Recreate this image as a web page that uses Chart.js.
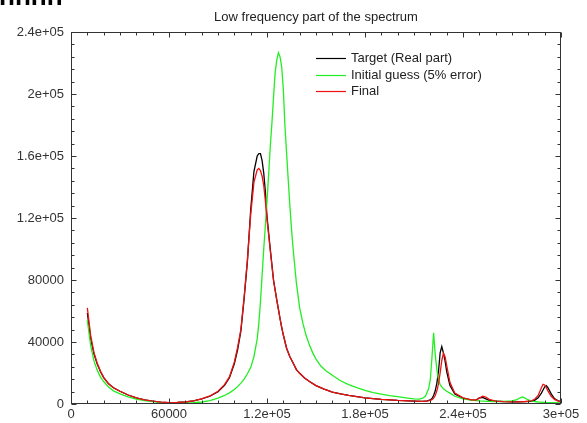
<!DOCTYPE html>
<html>
<head>
<meta charset="utf-8">
<script src="https://cdn.jsdelivr.net/npm/chart.js@4/dist/chart.umd.min.js"></script>
<style>
  body { margin: 0; background: #fff; }
  #wrap { position: relative; width: 587px; height: 423px; }
  #cut { position: absolute; left: 0; top: 0; width: 70px; height: 8px; overflow: hidden; }
  #cut span { position: absolute; left: -1px; top: -19px; font: bold 26px "Liberation Sans", sans-serif; color: #000; letter-spacing: 0px; }
</style>
</head>
<body>
<div id="wrap">
  <canvas id="spectrumChart" width="587" height="423"></canvas>
  <div id="cut"><span>nnnn</span></div>
</div>
<script>
const titleText = "Low frequency part of the spectrum";
const seriesNames = ["Target (Real part)", "Initial guess (5% error)", "Final"];

const xTicks = [0, 60000, 120000, 180000, 240000, 300000];
const yTicks = [0, 40000, 80000, 120000, 160000, 200000, 240000];

// Target (Real part)
const targetX = [10000, 12000, 14000, 16000, 18000, 20000, 23000, 26000, 30000, 35000,
  40000, 45000, 50000, 55000, 60000, 65000, 70000, 75000, 80000, 85000,
  90000, 94000, 97000, 100000, 102000, 104000, 106000, 108000, 110000, 112000,
  114000, 115000, 116000, 117000, 118000, 119000, 120000, 122000, 124000, 126000,
  127000, 128000, 129000, 130000, 132000, 134000, 136000, 138000, 140000, 143000,
  146000, 150000, 155000, 160000, 165000, 170000, 175000, 180000, 190000, 200000,
  210000, 215000, 218000, 220000, 221000, 222000, 223000, 224000, 225000, 226000,
  227000, 228000, 229000, 230000, 232000, 235000, 240000, 245000, 248000, 250000,
  252000, 254000, 256000, 260000, 265000, 270000, 274000, 278000, 282000, 284000,
  286000, 288000, 289000, 290000, 291000, 292000, 294000, 296000, 298000, 300000];
const targetY = [58700, 42500, 32500, 26000, 21000, 17000, 13000, 10500, 8200, 5800,
  4000, 2600, 1800, 1200, 900, 1000, 1300, 2000, 3300, 5000,
  7900, 12000, 17000, 26000, 35000, 47000, 68000, 92000, 125000, 150000,
  160000, 161500, 161500, 157000, 149000, 137000, 121000, 100000, 80000, 67000,
  61000, 55000, 49500, 44500, 36000, 30500, 26500, 22200, 19800, 16800,
  14500, 11900, 9600, 7700, 6500, 5500, 4700, 4000, 3000, 2300,
  1900, 1700, 2000, 2600, 3500, 5500, 8500, 13500, 21000, 33000,
  37000, 33000, 28000, 21000, 12000, 6500, 3800, 2600, 2500, 4000,
  4200, 3300, 2400, 1800, 1500, 1400, 1400, 1500, 1700, 2500,
  4000, 7000, 9000, 11000, 11800, 10500, 6500, 3500, 2200, 1500];

// Initial guess (5% error)
const initialX = [10000, 12000, 14000, 16000, 18000, 20000, 23000, 26000, 30000, 35000,
  40000, 45000, 50000, 55000, 60000, 65000, 70000, 75000, 80000, 85000,
  90000, 94000, 97000, 100000, 102000, 104000, 106000, 108000, 110000, 112000,
  114000, 115000, 116000, 117000, 118000, 119000, 120000, 121000, 122000, 123000,
  124000, 125000, 126000, 127000, 128000, 129000, 130000, 131000, 132000, 133000,
  134000, 135000, 136000, 138000, 140000, 142000, 144000, 146000, 148000, 150000,
  153000, 156000, 160000, 165000, 170000, 175000, 180000, 185000, 190000, 195000,
  200000, 205000, 210000, 213000, 215000, 217000, 219000, 220000, 221000, 222000,
  223000, 224000, 225000, 226000, 228000, 230000, 232000, 235000, 240000, 245000,
  250000, 255000, 260000, 265000, 270000, 273000, 275000, 276500, 278000, 280000,
  283000, 286000, 290000, 295000, 300000];
const initialY = [54000, 38000, 28000, 22000, 17500, 14500, 11000, 8500, 6500, 4600,
  3200, 2200, 1500, 1000, 700, 500, 600, 800, 1300, 2200,
  3800, 5500, 7200, 9300, 11200, 13500, 16000, 19500, 23500, 30500,
  42000, 52000, 66000, 83000, 100000, 115000, 131000, 148000, 166000, 181000,
  198000, 214000, 222000, 226700, 224000, 217600, 203000, 179000, 162000, 144500,
  128000, 113000, 100000, 78000, 62000, 52000, 44000, 38000, 33000, 29000,
  24500, 21500, 18500, 15000, 12500, 10500, 8800, 7400, 6300, 5400,
  4700, 4000, 3300, 3100, 3600, 5000, 10000, 16000, 30000, 46000,
  32000, 22000, 16000, 12500, 9800, 8200, 7000, 5000, 3300, 2500,
  2000, 1700, 1600, 1600, 2000, 2800, 4000, 4500, 3800, 2600,
  1700, 1300, 1000, 800, 700];

// Final
const finalX = [10000, 12000, 14000, 16000, 18000, 20000, 23000, 26000, 30000, 35000,
  40000, 45000, 50000, 55000, 60000, 65000, 70000, 75000, 80000, 85000,
  90000, 94000, 97000, 100000, 102000, 104000, 106000, 108000, 110000, 112000,
  114000, 115000, 116000, 117000, 118000, 119000, 120000, 122000, 124000, 126000,
  127000, 128000, 129000, 130000, 132000, 134000, 136000, 138000, 140000, 143000,
  146000, 150000, 155000, 160000, 165000, 170000, 175000, 180000, 190000, 200000,
  210000, 215000, 218000, 220000, 221000, 222000, 223000, 224000, 225000, 226000,
  227000, 228000, 229000, 230000, 232000, 235000, 240000, 245000, 248000, 250000,
  252000, 254000, 256000, 260000, 265000, 270000, 274000, 278000, 282000, 284000,
  286000, 288000, 289000, 290000, 291000, 292000, 294000, 296000, 298000, 300000];
const finalY = [62000, 44500, 33500, 26500, 21300, 17200, 13100, 10500, 8200, 5800,
  4000, 2600, 1800, 1200, 900, 1000, 1300, 2000, 3300, 5200,
  8200, 12500, 17500, 27000, 36500, 48000, 69000, 93000, 122000, 143000,
  151000, 152000, 150500, 147000, 141000, 131000, 119000, 99000, 79500, 67000,
  61000, 55000, 49500, 44500, 36000, 30500, 26500, 22200, 19800, 16800,
  14500, 11900, 9600, 7700, 6500, 5500, 4700, 4000, 3000, 2300,
  1900, 1700, 1900, 2300, 2800, 3800, 5500, 8500, 13000, 20000,
  28000, 32700, 30500, 25000, 14000, 7000, 4000, 2700, 2600, 3800,
  5100, 4500, 3000, 1900, 1500, 1400, 1400, 1600, 2000, 3200,
  5500, 10500, 12700, 12300, 10500, 8500, 5000, 3000, 2000, 1400];

const lineColors = ["#000000", "#22ee22", "#ee1111"];

function pairs(xs, ys) {
  return xs.map((x, i) => ({ x: x, y: ys[i] }));
}

function fmt(v) {
  v = Math.round(v);
  if (v === 0) return "0";
  if (v < 100000) return String(v);
  return (v / 100000) + "e+05";
}

const fontFamily = "'Liberation Sans', Arial, sans-serif";

// gnuplot-like frame, inward ticks on all four sides, title over the plot and key inside it
const framePlugin = {
  id: "frame",
  afterDraw(chart) {
    const c = chart.ctx;
    const a = chart.chartArea;
    const xs = chart.scales.x;
    const ys = chart.scales.y;
    const L = Math.round(a.left) + 0.5, R = Math.round(a.right) - 0.5;
    const T = Math.round(a.top) + 0.5, B = Math.round(a.bottom) - 0.5;
    c.save();
    c.strokeStyle = "#333";
    c.lineWidth = 1;
    c.strokeRect(L, T, R - L, B - T);
    c.beginPath();
    for (let v = 0; v <= 300000; v += 10000) {
      const px = Math.round(xs.getPixelForValue(v)) + 0.5;
      const len = v % 60000 === 0 ? 5 : 3;
      c.moveTo(px, B); c.lineTo(px, B - len);
      c.moveTo(px, T); c.lineTo(px, T + len);
    }
    for (let v = 0; v <= 240000; v += 8000) {
      const py = Math.round(ys.getPixelForValue(v)) + 0.5;
      const len = v % 40000 === 0 ? 5 : 3;
      c.moveTo(L, py); c.lineTo(L + len, py);
      c.moveTo(R, py); c.lineTo(R - len, py);
    }
    c.stroke();

    c.font = "13px " + fontFamily;
    c.fillStyle = "#222";
    c.textAlign = "center";
    c.textBaseline = "middle";
    c.fillText(titleText, (a.left + a.right) / 2, 17);

    // key
    c.textAlign = "left";
    seriesNames.forEach((name, i) => {
      const yy = Math.round(58 + i * 16.5) + 0.5;
      c.lineWidth = 1.2;
      c.strokeStyle = lineColors[i];
      c.beginPath();
      c.moveTo(316, yy);
      c.lineTo(346, yy);
      c.stroke();
      c.fillStyle = "#222";
      c.fillText(name, 351, yy);
    });
    c.restore();
  }
};

const ctx = document.getElementById("spectrumChart").getContext("2d");

new Chart(ctx, {
  type: "line",
  data: {
    datasets: [
      { label: seriesNames[0], data: pairs(targetX, targetY), borderColor: lineColors[0], order: 3 },
      { label: seriesNames[1], data: pairs(initialX, initialY), borderColor: lineColors[1], order: 2 },
      { label: seriesNames[2], data: pairs(finalX, finalY), borderColor: lineColors[2], order: 1 }
    ]
  },
  options: {
    responsive: false,
    devicePixelRatio: 1,
    animation: false,
    elements: {
      line: { borderWidth: 1.3, tension: 0, fill: false },
      point: { radius: 0 }
    },
    layout: { padding: { left: 0, right: 26, top: 32, bottom: 0 } },
    plugins: {
      legend: { display: false },
      tooltip: { enabled: false },
      title: { display: false }
    },
    scales: {
      x: {
        type: "linear",
        min: 0,
        max: 300000,
        grid: { display: false, drawTicks: false },
        border: { display: false },
        afterBuildTicks: s => { s.ticks = xTicks.map(v => ({ value: v })); },
        afterFit: s => { s.height = 19; },
        ticks: {
          autoSkip: false,
          maxRotation: 0,
          padding: 3,
          color: "#333",
          font: { family: fontFamily, size: 13 },
          callback: v => fmt(v)
        }
      },
      y: {
        type: "linear",
        min: 0,
        max: 240000,
        grid: { display: false, drawTicks: false },
        border: { display: false },
        afterBuildTicks: s => { s.ticks = yTicks.map(v => ({ value: v })); },
        afterFit: s => { s.width = 71; },
        ticks: {
          autoSkip: false,
          padding: 7,
          color: "#333",
          font: { family: fontFamily, size: 13 },
          callback: v => fmt(v)
        }
      }
    }
  },
  plugins: [framePlugin]
});
</script>
</body>
</html>
